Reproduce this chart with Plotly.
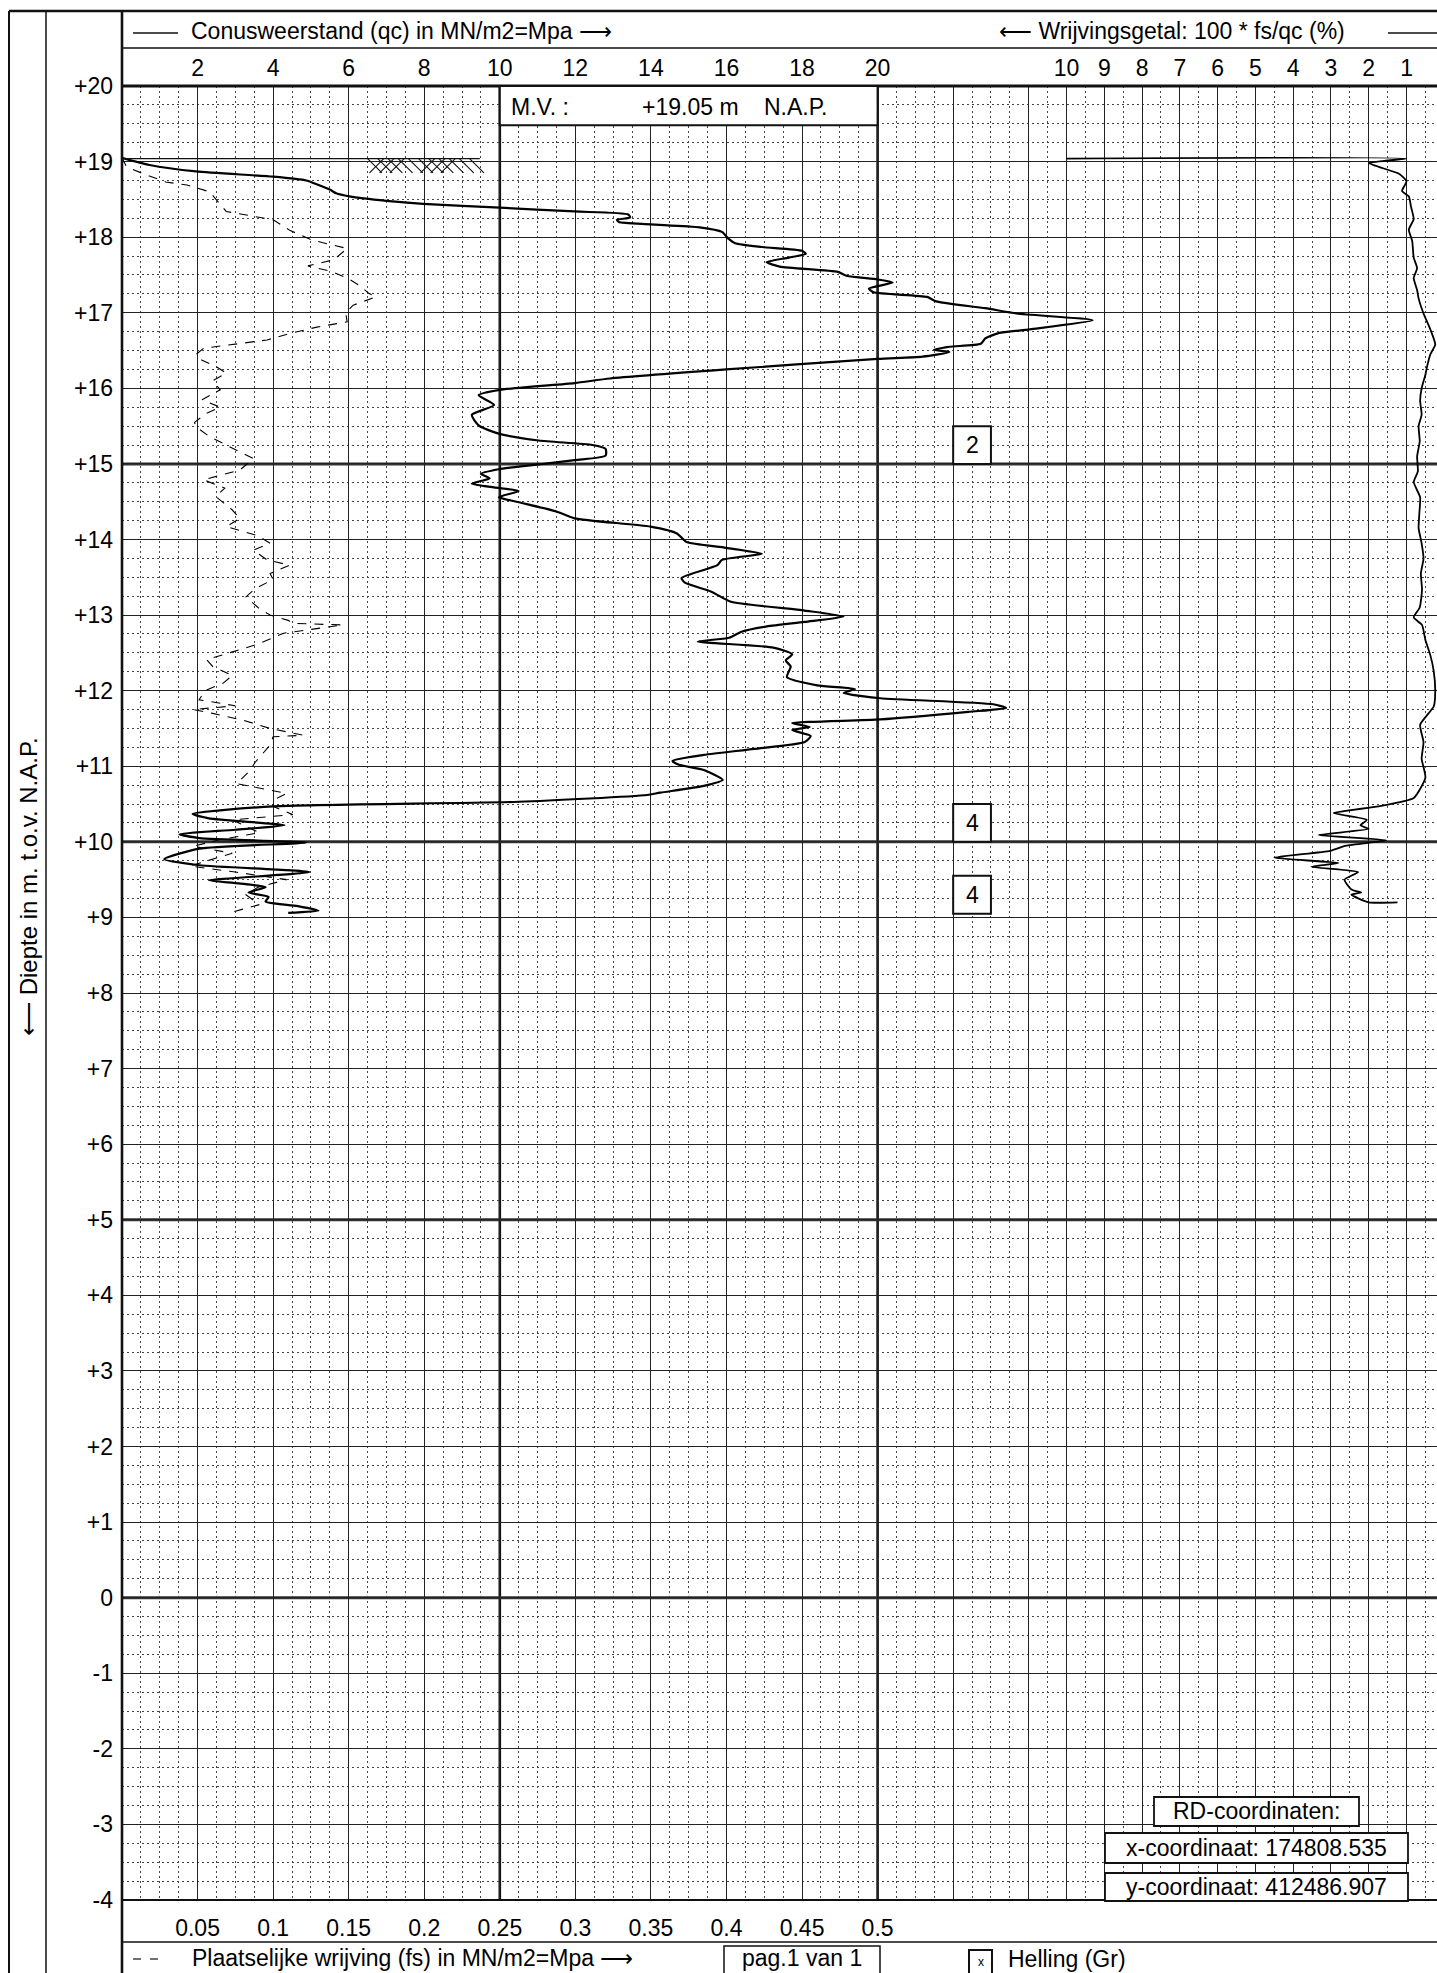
import plotly.graph_objects as go

# ---------------- data ----------------
QC_DEPTH = [19.05, 18.955, 18.87, 18.80, 18.75, 18.71, 18.63, 18.58, 18.54, 18.48, 18.44, 18.39, 18.34, 18.30,
            18.26, 18.23, 18.20, 18.17, 18.13, 18.07, 17.98, 17.92, 17.87, 17.82, 17.78, 17.73, 17.67, 17.61,
            17.54, 17.49, 17.44, 17.40, 17.32, 17.27, 17.21, 17.15, 17.06, 16.99, 16.90, 16.78, 16.73, 16.66,
            16.59, 16.55, 16.51, 16.48, 16.42, 16.39, 16.25, 16.13, 16.07, 15.98, 15.91, 15.78, 15.65, 15.51,
            15.40, 15.31, 15.25, 15.20, 15.11, 15.05, 14.96, 14.93, 14.87, 14.81, 14.74, 14.69, 14.64, 14.56,
            14.50, 14.37, 14.28, 14.17, 14.08, 13.97, 13.89, 13.81, 13.73, 13.66, 13.49, 13.43, 13.31, 13.18,
            13.06, 12.98, 12.91, 12.85, 12.78, 12.70, 12.65, 12.57, 12.48, 12.40, 12.32, 12.18, 12.07, 12.02,
            11.97, 11.90, 11.82, 11.77, 11.72, 11.62, 11.57, 11.52, 11.48, 11.40, 11.32, 11.23, 11.15, 11.07,
            11.02, 10.95, 10.82, 10.74, 10.65, 10.62, 10.53, 10.47, 10.37, 10.31, 10.22, 10.16, 10.10, 10.05,
            9.99, 9.91, 9.77, 9.69, 9.60, 9.49, 9.45, 9.40, 9.33, 9.27, 9.21, 9.15, 9.09, 9.06]
QC_VALUE = [0.0, 0.73, 1.96, 4.0, 4.88, 5.1, 5.5, 5.67, 6.02, 7.0, 7.97, 10.0, 11.98, 13.4,
            13.45, 13.1, 13.15, 13.99, 15.29, 15.88, 16.05, 16.23, 16.94, 18.0, 18.1, 17.65, 17.06, 17.41,
            18.95, 19.18, 20.0, 20.4, 19.77, 19.89, 21.31, 21.55, 22.85, 23.68, 25.69, 24.03, 23.2, 22.85,
            22.73, 21.9, 21.49, 21.9, 21.19, 20.0, 15.99, 12.92, 11.98, 10.0, 9.44, 9.85, 9.26, 9.44,
            9.97, 11.03, 12.45, 12.8, 12.8, 11.98, 10.44, 9.97, 9.5, 9.73, 9.26, 9.85, 10.5, 9.97,
            10.44, 11.5, 11.98, 13.99, 14.69, 14.93, 15.99, 16.94, 15.88, 15.76, 14.81, 14.9, 15.6, 16.1,
            18.07, 19.1, 18.07, 17.07, 16.4, 16.07, 15.24, 17.24, 17.74, 17.57, 17.7, 17.6, 18.4, 19.4,
            19.1, 20.07, 23.06, 23.4, 22.4, 20.07, 17.74, 18.2, 17.74, 18.23, 18.07, 16.74, 15.4, 14.57,
            14.74, 15.4, 15.9, 15.4, 14.24, 13.9, 10.5, 4.0, 1.87, 2.3, 4.3, 3.0, 1.52, 2.05,
            4.87, 2.05, 1.12, 2.05, 4.96, 2.3, 3.1, 3.8, 3.35, 3.88, 3.8, 4.65, 5.2, 4.4]

FS_DEPTH = [19.05, 18.93, 18.84, 18.73, 18.69, 18.60, 18.34, 18.29, 18.23, 18.09, 17.96, 17.85, 17.70, 17.62,
            17.55, 17.45, 17.35, 17.26, 17.21, 17.10, 17.00, 16.88, 16.81, 16.72, 16.64, 16.53, 16.45, 16.37,
            16.28, 16.20, 16.10, 15.98, 15.85, 15.75, 15.67, 15.55, 15.49, 15.36, 15.23, 15.07, 14.92, 14.79,
            14.68, 14.57, 14.39, 14.28, 14.17, 14.05, 13.95, 13.86, 13.73, 13.66, 13.55, 13.47, 13.35, 13.24,
            13.10, 13.00, 12.93, 12.89, 12.87, 12.80, 12.76, 12.61, 12.50, 12.41, 12.32, 12.20, 12.10, 12.00,
            11.88, 11.80, 11.75, 11.70, 11.61, 11.50, 11.41, 11.39, 11.28, 11.17, 11.05, 10.95, 10.77, 10.64,
            10.55, 10.47, 10.36, 10.29, 10.20, 10.12, 10.03, 9.94, 9.85, 9.76, 9.68, 9.60, 9.50, 9.40,
            9.30, 9.17, 9.06]
FS_VALUE = [0.000, 0.003, 0.014, 0.029, 0.043, 0.058, 0.069, 0.082, 0.100, 0.111, 0.126, 0.149, 0.140, 0.123,
            0.138, 0.150, 0.158, 0.163, 0.168, 0.153, 0.148, 0.149, 0.129, 0.110, 0.096, 0.054, 0.049, 0.053,
            0.063, 0.069, 0.060, 0.065, 0.053, 0.065, 0.056, 0.048, 0.049, 0.058, 0.071, 0.087, 0.078, 0.054,
            0.068, 0.062, 0.073, 0.078, 0.069, 0.090, 0.098, 0.087, 0.096, 0.111, 0.098, 0.100, 0.088, 0.082,
            0.090, 0.098, 0.110, 0.113, 0.146, 0.123, 0.107, 0.089, 0.070, 0.056, 0.060, 0.073, 0.067, 0.055,
            0.051, 0.075, 0.047, 0.060, 0.080, 0.098, 0.120, 0.100, 0.098, 0.093, 0.088, 0.085, 0.076, 0.109,
            0.100, 0.100, 0.113, 0.073, 0.083, 0.091, 0.065, 0.047, 0.073, 0.058, 0.045, 0.075, 0.109, 0.090,
            0.082, 0.091, 0.071]

RF_DEPTH = [19.04, 19.04, 18.98, 18.84, 18.74, 18.61, 18.54, 18.40, 18.24, 18.10, 17.95, 17.73, 17.59, 17.46,
            17.30, 17.19, 16.99, 16.78, 16.58, 16.45, 16.30, 16.18, 16.00, 15.84, 15.65, 15.50, 15.30, 15.10,
            14.90, 14.76, 14.56, 14.35, 14.15, 13.95, 13.75, 13.55, 13.34, 13.10, 12.97, 12.87, 12.67, 12.47,
            12.26, 11.99, 11.79, 11.55, 11.32, 11.10, 10.85, 10.58, 10.47, 10.38, 10.29, 10.22, 10.17, 10.09,
            10.02, 9.95, 9.88, 9.79, 9.72, 9.67, 9.60, 9.50, 9.37, 9.33, 9.30, 9.20, 9.20]
RF_VALUE = [10.0, 1.0, 2.0, 1.2, 1.0, 1.12, 0.94, 0.88, 0.81, 0.94, 0.85, 0.81, 0.72, 0.81,
            0.72, 0.68, 0.55, 0.37, 0.24, 0.37, 0.45, 0.5, 0.6, 0.64, 0.6, 0.68, 0.65, 0.72,
            0.7, 0.81, 0.64, 0.66, 0.68, 0.6, 0.55, 0.62, 0.59, 0.65, 0.81, 0.59, 0.5, 0.37,
            0.28, 0.24, 0.28, 0.64, 0.55, 0.6, 0.5, 0.81, 1.74, 2.93, 2.05, 2.22, 2.0, 3.33,
            1.53, 2.6, 3.02, 4.5, 2.8, 3.52, 2.28, 2.64, 2.46, 2.2, 2.46, 2.0, 1.24]

QC_TICKS = [2, 4, 6, 8, 10, 12, 14, 16, 18, 20, 22, 24]
QC_TICKTEXT = ["2", "4", "6", "8", "10", "12", "14", "16", "18", "20", "", ""]
FS_TICKS = [0.05, 0.1, 0.15, 0.2, 0.25, 0.3, 0.35, 0.4, 0.45, 0.5]
FS_TICKTEXT = ["0.05", "0.1", "0.15", "0.2", "0.25", "0.3", "0.35", "0.4", "0.45", "0.5"]
RF_TICKS = [1, 2, 3, 4, 5, 6, 7, 8, 9, 10]
RF_TICKTEXT = ["1", "2", "3", "4", "5", "6", "7", "8", "9", "10"]
DEPTH_TICKS = list(range(-4, 21))
DEPTH_TICKTEXT = ["+%d" % d if d > 0 else str(d) for d in DEPTH_TICKS]
BOLD_DEPTHS = [15, 10, 5, 0]
BOLD_QC = [10, 20]
LAYER_BOXES = [("2", 15.0), ("4", 10.0), ("4", 9.05)]
GROUND_LEVEL = 19.04

# ---------------- geometry ----------------
W, H = 1437, 1973
ML, MT, MB = 122, 86, 73
PW = W - ML
PH = H - MT - MB
UNIT = 37.78
XMAX = PW / UNIT
FONT = "Liberation Sans, Arial, sans-serif"
INK = "#111"


def px(p):
    return (p - ML) / PW


def py(p):
    return (H - MB - p) / PH


fig = go.Figure()
fig.add_trace(go.Scatter(x=QC_VALUE, y=QC_DEPTH, mode="lines", xaxis="x", yaxis="y",
                         line=dict(color="black", width=2.2, shape="spline", smoothing=0.6),
                         hoverinfo="skip"))
fig.add_trace(go.Scatter(x=FS_VALUE, y=FS_DEPTH, mode="lines", xaxis="x2", yaxis="y",
                         line=dict(color="black", width=1.1, dash="9px,8px"), hoverinfo="skip"))
fig.add_trace(go.Scatter(x=RF_VALUE, y=RF_DEPTH, mode="lines", xaxis="x3", yaxis="y",
                         line=dict(color="black", width=1.8, shape="spline", smoothing=0.5),
                         hoverinfo="skip"))

shapes = []


def pline(x0, y0, x1, y1, w=1.5, color=INK):
    shapes.append(dict(type="line", xref="paper", yref="paper", x0=px(x0), y0=py(y0), x1=px(x1), y1=py(y1),
                       line=dict(color=color, width=w), layer="above"))


def prect(x0, y0, x1, y1, w=1.8):
    shapes.append(dict(type="rect", xref="paper", yref="paper", x0=px(x0), y0=py(y0), x1=px(x1), y1=py(y1),
                       line=dict(color=INK, width=w), fillcolor="white", layer="above"))


# bold grid lines
for q in BOLD_QC:
    shapes.append(dict(type="line", xref="x", yref="paper", x0=q, x1=q, y0=0, y1=1,
                       line=dict(color=INK, width=2.6), layer="between"))
for d in BOLD_DEPTHS:
    shapes.append(dict(type="line", xref="paper", yref="y", x0=0, x1=1, y0=d, y1=d,
                       line=dict(color="#333", width=3), layer="between"))

# frame
pline(9, 11, 9, H, 2)
pline(46, 11, 46, H, 1.5)
pline(9, 11, W, 11, 2.5)
pline(ML, 11, ML, H, 2.6)
pline(ML, 48, W, 48, 1.5)
pline(ML, MT, W, MT, 3)
pline(ML, H - MB, W, H - MB, 2)
pline(ML, 1942, W, 1942, 1.5)
# header legend lines
pline(133, 33, 178, 33, 1.5)
pline(1388, 33, W, 33, 1.5)
# bottom legend dashes
pline(133, 1959, 141, 1959, 1.2)
pline(150, 1959, 158, 1959, 1.2)

# M.V. box (data coords)
shapes.append(dict(type="rect", xref="x", yref="y", x0=10, x1=20, y0=19.48, y1=20,
                   line=dict(color=INK, width=2), fillcolor="white", layer="above"))
# ground level line and hatch symbol
shapes.append(dict(type="line", xref="x", yref="y", x0=0, x1=9.47, y0=GROUND_LEVEL, y1=GROUND_LEVEL,
                   line=dict(color=INK, width=1.3), layer="above"))
q = 6.5
while q <= 9.45:
    shapes.append(dict(type="line", xref="x", yref="y", x0=q, x1=q + 0.38, y0=GROUND_LEVEL, y1=GROUND_LEVEL - 0.19,
                       line=dict(color=INK, width=1.1), layer="above"))
    q += 0.27
for start, end in [(6.55, 7.2), (7.9, 8.5)]:
    q = start
    while q <= end:
        shapes.append(dict(type="line", xref="x", yref="y", x0=q + 0.38, x1=q, y0=GROUND_LEVEL,
                           y1=GROUND_LEVEL - 0.19, line=dict(color=INK, width=1.1), layer="above"))
        q += 0.27

# layer boxes
for lab, bottom in LAYER_BOXES:
    shapes.append(dict(type="rect", xref="x", yref="y", x0=22, x1=23, y0=bottom, y1=bottom + 0.5,
                       line=dict(color=INK, width=2), fillcolor="white", layer="above"))

# RD boxes
prect(1154, 1797, 1359, 1826)
prect(1105, 1833, 1408, 1863)
prect(1105, 1873, 1408, 1901)
# bottom boxes
prect(724, 1946, 880, 1985, 1.5)
prect(969, 1950, 992, 1975, 2)

annotations = []


def ptext(x, y, text, size=23, xanchor="left", **kw):
    annotations.append(dict(xref="paper", yref="paper", x=px(x), y=py(y), text=text, showarrow=False,
                            xanchor=xanchor, yanchor="middle", font=dict(family=FONT, size=size, color="black"),
                            **kw))


ptext(189, 31, "Conusweerstand (qc) in MN/m2=Mpa \u27f6")
ptext(997, 31, "\u27f5 Wrijvingsgetal: 100 * fs/qc (%)")
ptext(509, 107, "M.V. :")
ptext(640, 107, "+19.05 m")
ptext(762, 107, "N.A.P.")
ptext(1256, 1811, "RD-coordinaten:", xanchor="center")
ptext(1256, 1848, "x-coordinaat: 174808.535", xanchor="center")
ptext(1256, 1887, "y-coordinaat: 412486.907", xanchor="center")
ptext(190, 1958, "Plaatselijke wrijving (fs) in MN/m2=Mpa \u27f6")
ptext(802, 1958, "pag.1 van 1", xanchor="center")
ptext(980.5, 1962, "x", size=12, xanchor="center")
ptext(1006, 1959, "Helling (Gr)")
ptext(28, 887, "\u27f5 Diepte in m. t.o.v. N.A.P.", size=24, xanchor="center", textangle=-90)

for lab, bottom in LAYER_BOXES:
    annotations.append(dict(xref="x", yref="y", x=22.5, y=bottom + 0.25, text=lab, showarrow=False,
                            font=dict(family=FONT, size=23, color="black")))

grid_solid = dict(showgrid=True, gridcolor="#222", gridwidth=1)
fig.update_layout(
    width=W, height=H,
    margin=dict(l=ML, r=0, t=MT, b=MB, pad=0, autoexpand=False),
    paper_bgcolor="white", plot_bgcolor="white", showlegend=False,
    font=dict(family=FONT, size=23, color="black"),
    xaxis=dict(range=[0, XMAX], side="top", tickmode="array", tickvals=QC_TICKS, ticktext=QC_TICKTEXT,
               ticks="", showline=False, zeroline=False, fixedrange=True, ticklabelstandoff=4,
               minor=dict(tick0=0, dtick=0.5, showgrid=True, gridcolor="#444", griddash="2px,3px",
                          gridwidth=1, ticks=""), **grid_solid),
    xaxis2=dict(range=[0, XMAX / 40], overlaying="x", anchor="y", side="bottom", tickmode="array",
                tickvals=FS_TICKS, ticktext=FS_TICKTEXT, ticks="", showgrid=False, zeroline=False,
                showline=False, fixedrange=True, ticklabelstandoff=12),
    xaxis3=dict(range=[35, 35 - XMAX], overlaying="x", anchor="y", side="top", tickmode="array",
                tickvals=RF_TICKS, ticktext=RF_TICKTEXT, ticks="", zeroline=False, showline=False,
                fixedrange=True, ticklabelstandoff=4, **grid_solid),
    yaxis=dict(range=[-4, 20], tickmode="array", tickvals=DEPTH_TICKS, ticktext=DEPTH_TICKTEXT, ticks="",
               zeroline=False, showline=False, fixedrange=True, ticklabelstandoff=8,
               minor=dict(tick0=0, dtick=0.25, showgrid=True, gridcolor="#444", griddash="2px,3px",
                          gridwidth=1, ticks=""), **grid_solid),
    shapes=shapes, annotations=annotations,
)

fig.write_html("out.html", config={"displayModeBar": False, "staticPlot": True},
               post_script="document.body.style.margin='0';document.body.style.overflow='hidden';")
